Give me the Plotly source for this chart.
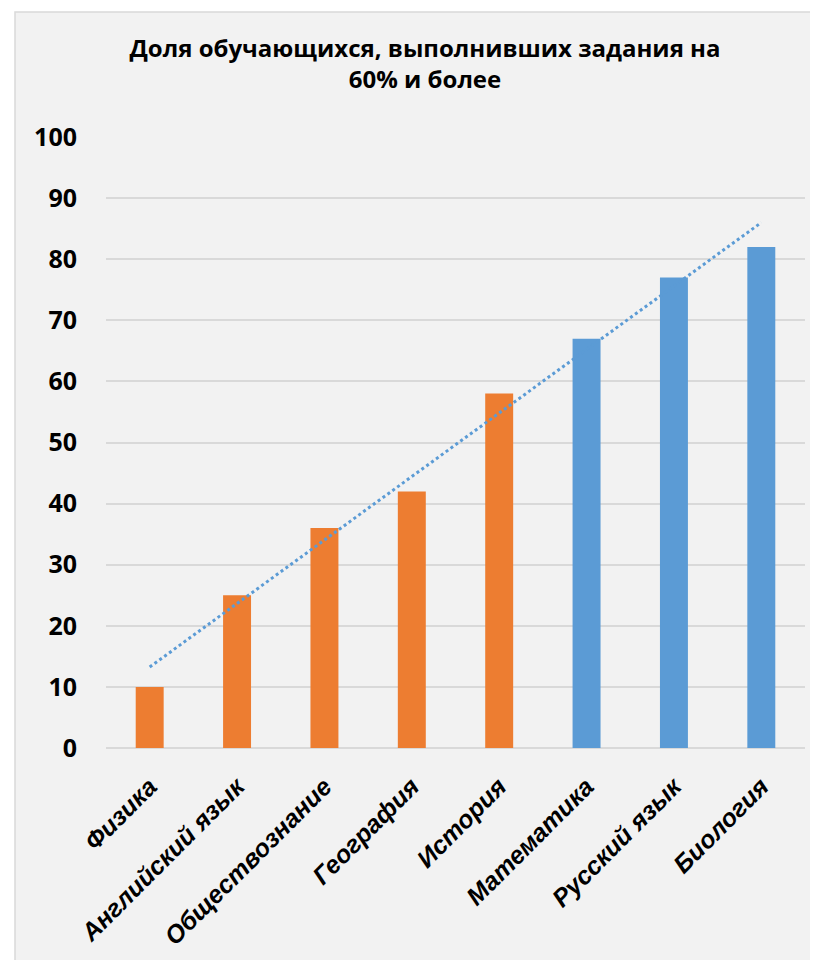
import numpy as np
import plotly.graph_objects as go

categories = ["Физика", "Английский язык", "Обществознание", "География",
              "История", "Математика", "Русский язык", "Биология"]
values = [10, 25, 36, 42, 58, 67, 77, 82]
bar_colors = ["#ED7D31"] * 5 + ["#5B9BD5"] * 3
y_ticks = [0, 10, 20, 30, 40, 50, 60, 70, 80, 90, 100]

# linear trendline (least squares, as in the spreadsheet)
xi = np.arange(len(values))
slope, intercept = np.polyfit(xi, values, 1)
trend = intercept + slope * xi

FONT = "Open Sans"
XFONT = "Liberation Sans"

fig = go.Figure()
fig.add_trace(go.Bar(x=categories, y=values, marker=dict(color=bar_colors, line=dict(width=0)),
                     width=0.32, showlegend=False, hoverinfo="x+y"))
fig.add_trace(go.Scatter(x=[categories[0], categories[-1]], y=[trend[0], trend[-1]],
                         mode="lines", line=dict(color="#5B9BD5", width=3, dash="dot"),
                         showlegend=False, hoverinfo="skip"))

# page has an 8px body margin, so figure coords = page coords - 8
W, H = 810, 952
L, R, T, B = 98, 13, 129, 212
pw, ph = W - L - R, H - T - B

def px(x):
    return (x - L) / pw

def py(y):
    return (H - B - y) / ph

fig.add_shape(type="rect", xref="paper", yref="paper",
              x0=px(7), x1=px(830), y0=py(960), y1=py(4),
              fillcolor="#F2F2F2", line=dict(color="#D9D9D9", width=1.5), layer="below")

fig.update_layout(
    width=W, height=H,
    margin=dict(l=L, r=R, t=T, b=B, autoexpand=False),
    paper_bgcolor="white",
    plot_bgcolor="rgba(0,0,0,0)",
    font=dict(family=FONT, color="#000000"),
    title=dict(text="<b>Доля обучающихся, выполнивших задания на<br>60% и более</b>",
               x=417 / W, xref="container", xanchor="center",
               y=1 - 49 / H, yanchor="top",
               font=dict(size=24, family=FONT, color="#000000")),
    xaxis=dict(type="category", tickangle=-45, showgrid=False, showline=False,
               ticks="", ticklabelstandoff=18, automargin=False,
               tickfont=dict(size=25, family=XFONT, weight="bold", style="italic", color="#000000"),
               range=[-0.5, 7.5], fixedrange=True),
    yaxis=dict(range=[0, 100], tickvals=y_ticks, showgrid=True, gridcolor="#D9D9D9",
               gridwidth=1.5, zeroline=True, zerolinecolor="#D9D9D9", zerolinewidth=1.5,
               ticks="", ticklabelstandoff=28, automargin=False,
               tickfont=dict(size=25, family=FONT, weight="bold", color="#000000"),
               fixedrange=True),
)

fig.write_html("out.html")
